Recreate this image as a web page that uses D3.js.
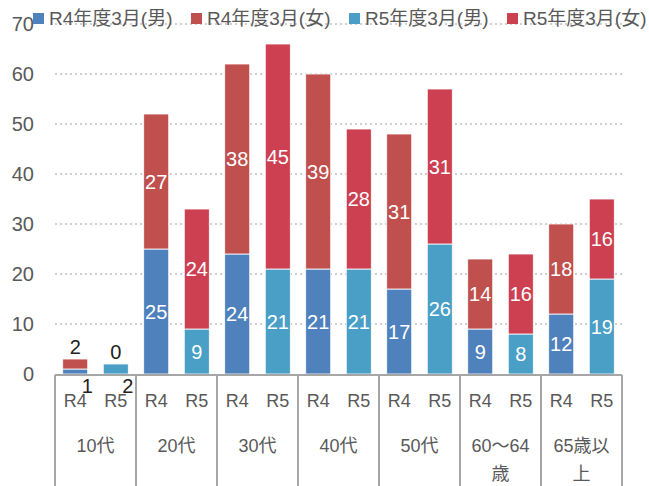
<!DOCTYPE html>
<html>
<head>
<meta charset="utf-8">
<script src="https://cdn.jsdelivr.net/npm/d3@7"></script>
<style>
body{margin:0;background:#fff;}
text{font-family:"Liberation Sans","Noto Sans CJK JP",sans-serif;}
</style>
</head>
<body>
<div id="chart"></div>
<script>
// age groups, split on \n for the two line labels
var groups = ["10代","20代","30代","40代","50代","60～64\n歳","65歳以\n上"];
var years = ["R4","R5"];
var r4_male = [1,25,24,21,17,9,12];
var r4_female = [2,27,38,39,31,14,18];
var r5_male = [2,9,21,21,26,8,19];
var r5_female = [0,24,45,28,31,16,16];
var y_ticks = [0,10,20,30,40,50,60,70];
var legend_names = ["R4年度3月(男)","R4年度3月(女)","R5年度3月(男)","R5年度3月(女)"];
var colors = ["#4f81bd","#c0504d","#4a9fc6","#cd4051"];

var width = 649, height = 486;
var left = 55, right = 622, top_y = 24, bottom_y = 374;

var svg = d3.select("#chart").append("svg")
	.attr("width", width)
	.attr("height", height);

var x0 = d3.scaleBand().domain(groups).range([left, right]).padding(0);
var x1 = d3.scaleBand().domain(years).range([0, x0.bandwidth()])
	.paddingInner(0.383).paddingOuter(0.19);
var y = d3.scaleLinear().domain([0,70]).range([bottom_y, top_y]);

// grid
svg.append("g").selectAll("line")
	.data(y_ticks.filter(d=>d>0))
	.enter().append("line")
	.attr("x1", left).attr("x2", right)
	.attr("y1", d=>y(d)).attr("y2", d=>y(d))
	.attr("stroke", "#d0d0d0")
	.attr("stroke-width", 2)
	.attr("stroke-dasharray", "2,3");

// y tick labels
svg.append("g").selectAll("text")
	.data(y_ticks)
	.enter().append("text")
	.attr("x", 34)
	.attr("y", d=>y(d) + 7)
	.attr("text-anchor", "end")
	.attr("font-size", 20)
	.attr("fill", "#595959")
	.text(d=>d);

// build stacked rows
var rows = [];
groups.forEach(function(g, i){
	rows.push({group:g, year:"R4", male:r4_male[i], female:r4_female[i], cm:colors[0], cf:colors[1]});
	rows.push({group:g, year:"R5", male:r5_male[i], female:r5_female[i], cm:colors[2], cf:colors[3]});
});

var bars = svg.append("g").selectAll("g")
	.data(rows)
	.enter().append("g")
	.attr("transform", d=>"translate(" + (x0(d.group) + x1(d.year)) + ",0)");

bars.append("rect")
	.attr("x", 0)
	.attr("width", x1.bandwidth())
	.attr("y", d=>y(d.male))
	.attr("height", d=>y(0) - y(d.male))
	.attr("fill", d=>d.cm)
	.attr("stroke", "#fff")
	.attr("stroke-width", 0.8);

bars.append("rect")
	.attr("x", 0)
	.attr("width", x1.bandwidth())
	.attr("y", d=>y(d.male + d.female))
	.attr("height", d=>y(d.male) - y(d.male + d.female))
	.attr("fill", d=>d.cf)
	.attr("stroke", "#fff")
	.attr("stroke-width", 0.8);

var bw = x1.bandwidth();
// value labels
bars.append("text")
	.attr("x", function(d){ return (y(0) - y(d.male)) < 20 ? bw/2 + 12 : bw/2; })
	.attr("y", function(d){
		var h = y(0) - y(d.male);
		if(h < 20) return y(0) + 19;
		return (y(0) + y(d.male))/2 + 7;
	})
	.attr("text-anchor", "middle")
	.attr("font-size", 20)
	.attr("fill", d=>(y(0) - y(d.male)) < 20 ? "#222" : "#fff")
	.text(d=>d.male);

bars.append("text")
	.attr("x", bw/2)
	.attr("y", function(d){
		var h = y(d.male) - y(d.male + d.female);
		if(h < 20) return y(d.male + d.female) - 5;
		return (y(d.male) + y(d.male + d.female))/2 + 7;
	})
	.attr("text-anchor", "middle")
	.attr("font-size", 20)
	.attr("fill", d=>(y(d.male) - y(d.male + d.female)) < 20 ? "#222" : "#fff")
	.text(d=>d.female);

// category axis
var axis = svg.append("g");
axis.append("line")
	.attr("x1", left).attr("x2", right)
	.attr("y1", bottom_y + 1).attr("y2", bottom_y + 1)
	.attr("stroke", "#a6a6a6").attr("stroke-width", 2);

var seps = groups.map(g=>x0(g)).concat([right]);
axis.selectAll("line.sep")
	.data(seps)
	.enter().append("line")
	.attr("class", "sep")
	.attr("x1", d=>d).attr("x2", d=>d)
	.attr("y1", bottom_y + 1).attr("y2", height)
	.attr("stroke", "#a6a6a6").attr("stroke-width", 2);

axis.selectAll("text.yr")
	.data(rows)
	.enter().append("text")
	.attr("class", "yr")
	.attr("x", d=>x0(d.group) + x1(d.year) + bw/2)
	.attr("y", 407)
	.attr("text-anchor", "middle")
	.attr("font-size", 18)
	.attr("fill", "#595959")
	.text(d=>d.year);

var glab = axis.selectAll("text.grp")
	.data(groups)
	.enter().append("text")
	.attr("class", "grp")
	.attr("x", d=>x0(d) + x0.bandwidth()/2)
	.attr("y", 452)
	.attr("text-anchor", "middle")
	.attr("font-size", 18)
	.attr("fill", "#595959");
glab.each(function(d){
	var t = d3.select(this);
	d.split("\n").forEach(function(line, i){
		t.append("tspan")
			.attr("x", x0(d) + x0.bandwidth()/2)
			.attr("dy", i ? 28 : 0)
			.text(line);
	});
});

// legend
var leg = svg.append("g").selectAll("g")
	.data(legend_names)
	.enter().append("g")
	.attr("transform", (d,i)=>"translate(" + (33 + i*158) + ",13)");
leg.append("rect")
	.attr("width", 11).attr("height", 11)
	.attr("fill", (d,i)=>colors[i]);
leg.append("text")
	.attr("x", 16).attr("y", 12)
	.attr("font-size", 19)
	.attr("fill", "#595959")
	.text(d=>d);
</script>
</body>
</html>
